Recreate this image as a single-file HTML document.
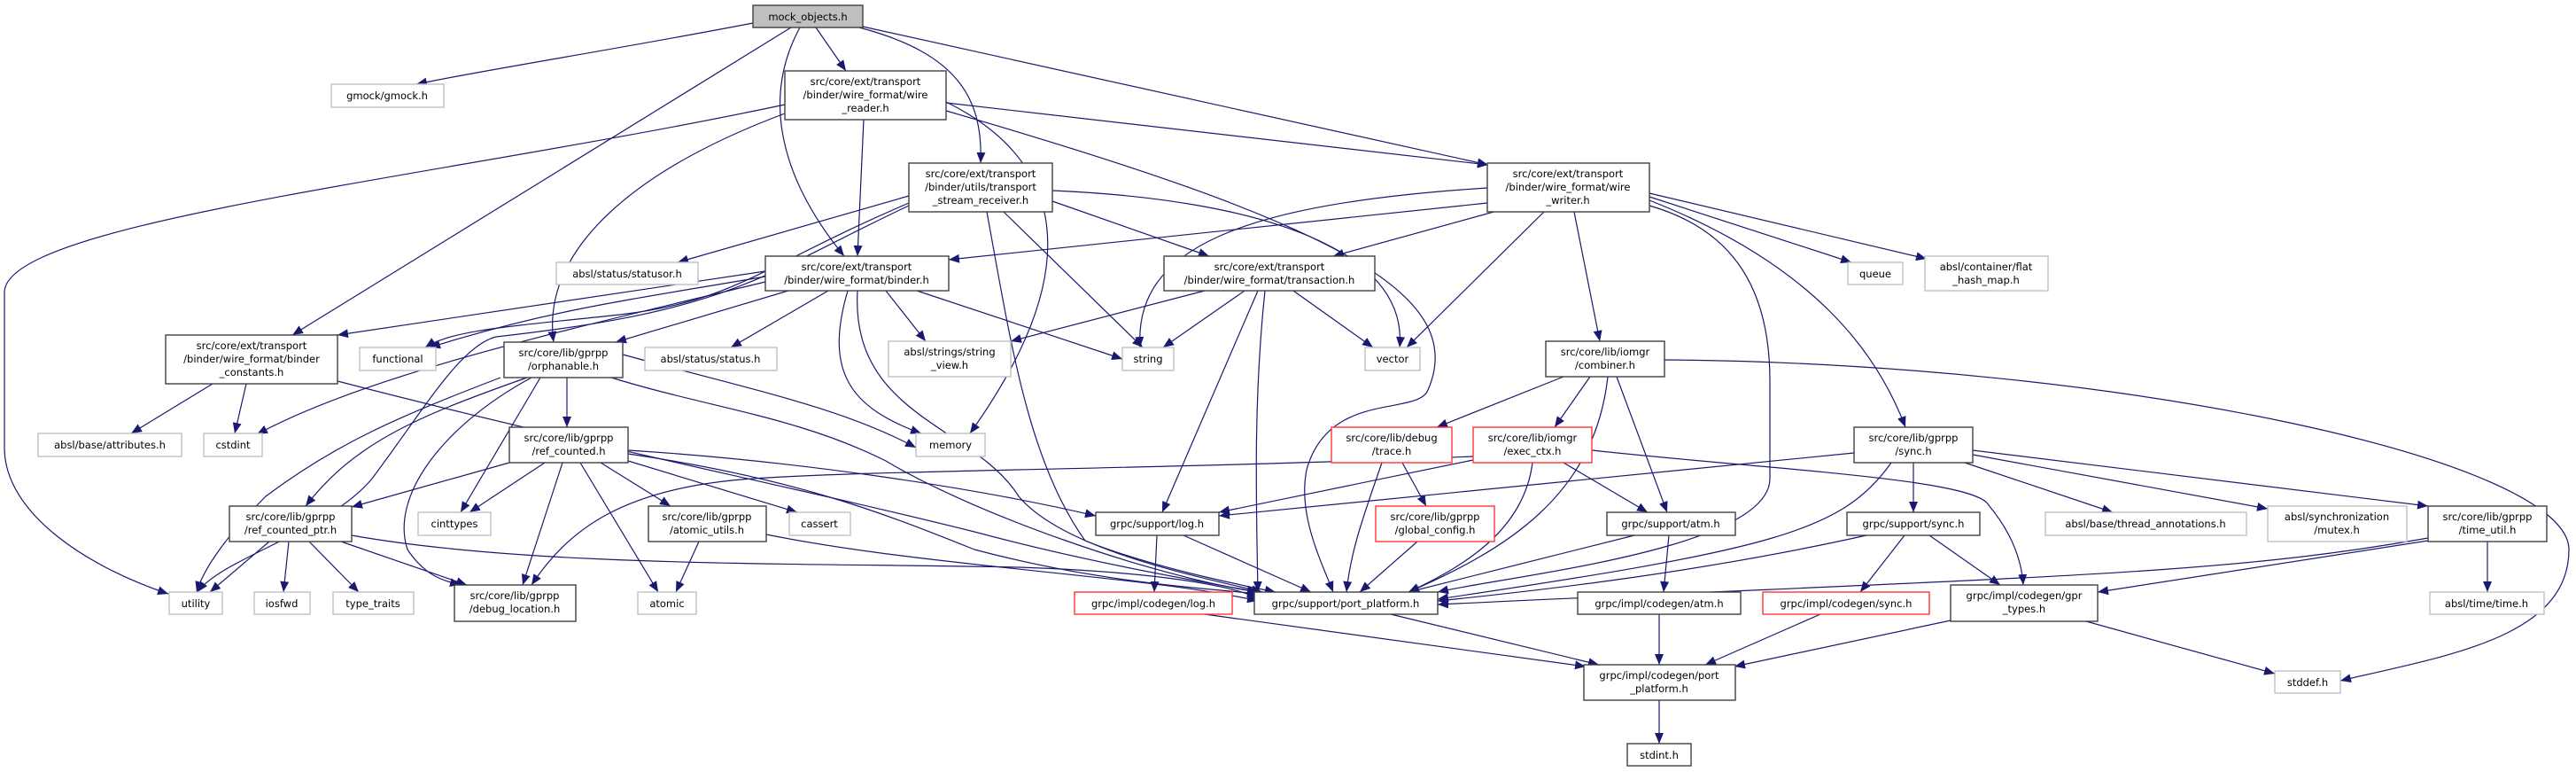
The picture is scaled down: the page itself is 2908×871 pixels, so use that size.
<!DOCTYPE html>
<html><head><meta charset="utf-8"><style>
html,body{margin:0;padding:0;background:#fff;}
svg{display:block;}
text{font-family:"DejaVu Sans","Liberation Sans",sans-serif;font-size:11.5px;fill:#000;text-anchor:middle;}
.e{fill:none;stroke:#191970;stroke-width:1.2;marker-end:url(#a);}
.b{fill:#fff;stroke:#404040;stroke-width:1.4;}
.g{fill:#fff;stroke:#c0c0c0;stroke-width:1.4;}
.r{fill:#fff;stroke:#ff3333;stroke-width:1.4;}
.m{fill:#bfbfbf;stroke:#404040;stroke-width:1.4;}
</style></head><body>
<svg width="2908" height="871" viewBox="0 0 2908 871" xmlns="http://www.w3.org/2000/svg">
<defs><marker id="a" markerUnits="userSpaceOnUse" markerWidth="13" markerHeight="10" refX="12" refY="5" orient="auto"><path d="M0,0 L12,5 L0,10 z" fill="#191970"/></marker></defs>

<!-- edges -->
<path class="e" d="M850,26 C700,55 540,80 470,95"/>
<path class="e" d="M921,31 L955,80"/>
<path class="e" d="M893,31 L330,378"/>
<path class="e" d="M903,31 C860,110 880,200 953,289"/>
<path class="e" d="M970,31 C1080,60 1110,110 1107,184"/>
<path class="e" d="M974,30 L1680,186"/>

<path class="e" d="M886,118 C500,200 5,250 5,330 L5,505 C5,580 100,640 190,670"/>
<path class="e" d="M886,128 C720,190 610,280 625,386"/>
<path class="e" d="M975,135 L968,289"/>
<path class="e" d="M1068,115 C1200,180 1230,300 1095,489"/>
<path class="e" d="M1068,116 L1680,186"/>
<path class="e" d="M1068,125 C1500,250 1660,330 1612,440 C1600,470 1500,440 1475,530 C1465,580 1490,630 1505,668"/>

<path class="e" d="M1026,221 L765,296"/>
<path class="e" d="M1026,229 C860,300 830,340 700,355 C580,368 510,372 480,392"/>
<path class="e" d="M1026,232 C860,310 830,350 560,380 C520,390 480,460 420,540 C370,600 250,630 223,668"/>
<path class="e" d="M1133,239 L1290,392"/>
<path class="e" d="M1188,227 L1365,289"/>
<path class="e" d="M1188,215 C1420,225 1590,280 1580,392"/>
<path class="e" d="M1114,239 C1140,380 1160,520 1225,610 C1300,640 1400,660 1440,668"/>

<path class="e" d="M864,306 L381,378"/>
<path class="e" d="M864,312 C700,340 620,350 485,392"/>
<path class="e" d="M864,318 C650,370 420,420 290,490"/>
<path class="e" d="M890,328 L695,386"/>
<path class="e" d="M935,328 L825,392"/>
<path class="e" d="M1000,328 L1045,385"/>
<path class="e" d="M1035,328 L1267,405"/>
<path class="e" d="M957,328 C930,420 960,460 1040,489"/>
<path class="e" d="M968,328 C960,470 1100,480 1150,560 C1200,620 1350,650 1425,668"/>

<path class="e" d="M1679,229 L1071,293"/>
<path class="e" d="M1679,212 C1400,230 1280,280 1287,392"/>
<path class="e" d="M1719,230 L1505,289"/>
<path class="e" d="M1743,239 L1588,392"/>
<path class="e" d="M1777,239 L1806,385"/>
<path class="e" d="M1862,226 C2050,300 2120,400 2151,482"/>
<path class="e" d="M1862,222 L2090,296"/>
<path class="e" d="M1862,218 L2175,292"/>
<path class="e" d="M1862,232 C1960,260 1998,330 1998,430 L1998,540 C1998,620 1700,650 1623,668"/>

<path class="e" d="M1360,328 L1141,385"/>
<path class="e" d="M1405,328 L1313,392"/>
<path class="e" d="M1460,328 L1550,392"/>
<path class="e" d="M1420,328 L1312,578"/>
<path class="e" d="M1428,328 C1415,450 1418,560 1420,668"/>

<path class="e" d="M1765,425 L1622,482"/>
<path class="e" d="M1795,425 L1755,482"/>
<path class="e" d="M1825,425 L1882,578"/>
<path class="e" d="M1815,425 C1800,560 1700,620 1590,668"/>
<path class="e" d="M1879,406 C2400,410 2900,520 2900,620 C2900,720 2760,740 2642,768"/>

<path class="e" d="M1583,522 L1610,571"/>
<path class="e" d="M1560,522 C1540,580 1525,620 1520,668"/>
<path class="e" d="M1663,519 L1376,578"/>
<path class="e" d="M1663,515 C1300,530 1000,530 850,540 C700,550 640,600 600,660"/>
<path class="e" d="M1765,522 L1860,578"/>
<path class="e" d="M1730,522 C1720,600 1650,640 1590,668"/>
<path class="e" d="M1797,508 C2000,530 2230,540 2245,570 C2270,600 2282,630 2284,660"/>
<path class="e" d="M1600,611 L1535,668"/>

<path class="e" d="M703,400 C850,440 950,460 1034,505"/>
<path class="e" d="M610,426 L520,578"/>
<path class="e" d="M640,426 L640,482"/>
<path class="e" d="M595,426 C470,470 400,500 345,571"/>
<path class="e" d="M565,426 C450,470 380,500 300,560 C260,600 230,640 222,668"/>
<path class="e" d="M600,426 C500,480 440,560 460,620 C480,650 500,655 520,660"/>
<path class="e" d="M690,426 C800,460 900,470 1000,520 C1100,580 1300,650 1420,668"/>

<path class="e" d="M240,433 L148,489"/>
<path class="e" d="M278,433 L265,489"/>
<path class="e" d="M381,430 C650,500 900,550 1100,600 C1250,640 1380,660 1420,668"/>

<path class="e" d="M575,522 L397,572"/>
<path class="e" d="M615,522 L530,578"/>
<path class="e" d="M635,522 L590,660"/>
<path class="e" d="M655,522 L743,668"/>
<path class="e" d="M678,522 L757,571"/>
<path class="e" d="M709,520 L900,578"/>
<path class="e" d="M709,508 C900,520 1100,550 1237,582"/>
<path class="e" d="M709,512 C900,540 1000,580 1100,620 C1250,660 1380,665 1420,670"/>

<path class="e" d="M304,611 L237,668"/>
<path class="e" d="M326,611 L320,668"/>
<path class="e" d="M349,611 L405,668"/>
<path class="e" d="M385,611 L527,660"/>
<path class="e" d="M397,604 C600,640 900,635 1150,640 C1300,645 1390,660 1420,675"/>
<path class="e" d="M789,611 L763,668"/>
<path class="e" d="M865,603 C1050,640 1300,650 1420,678"/>

<path class="e" d="M1306,604 L1303,668"/>
<path class="e" d="M1336,604 L1480,668"/>
<path class="e" d="M1845,604 L1590,668"/>
<path class="e" d="M1884,604 L1878,668"/>

<path class="e" d="M2093,511 L1376,582"/>
<path class="e" d="M2135,522 C2080,600 2000,620 1623,676"/>
<path class="e" d="M2160,522 L2160,578"/>
<path class="e" d="M2218,522 L2385,578"/>
<path class="e" d="M2227,513 L2560,574"/>
<path class="e" d="M2227,508 L2741,571"/>
<path class="e" d="M2150,604 L2100,668"/>
<path class="e" d="M2178,604 L2258,660"/>
<path class="e" d="M2107,604 C1900,650 1700,670 1623,678"/>
<path class="e" d="M2808,611 L2808,668"/>
<path class="e" d="M2741,610 L2368,668"/>
<path class="e" d="M2741,607 C2500,650 2300,650 1623,682"/>

<path class="e" d="M1360,693 L1790,752"/>
<path class="e" d="M1570,693 L1805,750"/>
<path class="e" d="M1873,693 L1873,750"/>
<path class="e" d="M2055,693 L1925,750"/>
<path class="e" d="M2202,700 L1958,752"/>
<path class="e" d="M2355,701 L2568,760"/>
<path class="e" d="M1873,790 L1873,839"/>

<!-- nodes -->
<rect class="m" x="850" y="6" width="124" height="25"/><text x="912" y="23">mock_objects.h</text>
<rect class="g" x="374" y="95" width="127" height="26"/><text x="437" y="112">gmock/gmock.h</text>
<rect class="b" x="886" y="80" width="182" height="55"/><text x="977" y="96">src/core/ext/transport</text><text x="977" y="111">/binder/wire_format/wire</text><text x="977" y="126">_reader.h</text>
<rect class="g" x="628" y="296" width="160" height="25"/><text x="708" y="313">absl/status/statusor.h</text>
<rect class="b" x="864" y="289" width="207" height="39"/><text x="967" y="305">src/core/ext/transport</text><text x="967" y="320">/binder/wire_format/binder.h</text>
<rect class="b" x="187" y="378" width="194" height="55"/><text x="284" y="394">src/core/ext/transport</text><text x="284" y="409">/binder/wire_format/binder</text><text x="284" y="424">_constants.h</text>
<rect class="g" x="406" y="392" width="86" height="26"/><text x="449" y="409">functional</text>
<rect class="b" x="569" y="386" width="134" height="40"/><text x="636" y="402">src/core/lib/gprpp</text><text x="636" y="417">/orphanable.h</text>
<rect class="g" x="728" y="392" width="149" height="26"/><text x="802" y="409">absl/status/status.h</text>
<rect class="g" x="43" y="489" width="162" height="26"/><text x="124" y="506">absl/base/attributes.h</text>
<rect class="g" x="230" y="489" width="66" height="26"/><text x="263" y="506">cstdint</text>
<rect class="b" x="575" y="482" width="134" height="40"/><text x="642" y="498">src/core/lib/gprpp</text><text x="642" y="513">/ref_counted.h</text>
<rect class="b" x="259" y="571" width="138" height="40"/><text x="328" y="587">src/core/lib/gprpp</text><text x="328" y="602">/ref_counted_ptr.h</text>
<rect class="g" x="472" y="578" width="82" height="26"/><text x="513" y="595">cinttypes</text>
<rect class="b" x="732" y="571" width="133" height="40"/><text x="798" y="587">src/core/lib/gprpp</text><text x="798" y="602">/atomic_utils.h</text>
<rect class="g" x="891" y="578" width="69" height="26"/><text x="925" y="595">cassert</text>
<rect class="g" x="191" y="668" width="60" height="25"/><text x="221" y="685">utility</text>
<rect class="g" x="287" y="668" width="63" height="25"/><text x="318" y="685">iosfwd</text>
<rect class="g" x="376" y="668" width="91" height="25"/><text x="421" y="685">type_traits</text>
<rect class="b" x="513" y="660" width="137" height="41"/><text x="581" y="676">src/core/lib/gprpp</text><text x="581" y="691">/debug_location.h</text>
<rect class="g" x="720" y="668" width="66" height="25"/><text x="753" y="685">atomic</text>

<rect class="b" x="1026" y="184" width="162" height="55"/><text x="1107" y="200">src/core/ext/transport</text><text x="1107" y="215">/binder/utils/transport</text><text x="1107" y="230">_stream_receiver.h</text>
<rect class="b" x="1679" y="184" width="183" height="55"/><text x="1770" y="200">src/core/ext/transport</text><text x="1770" y="215">/binder/wire_format/wire</text><text x="1770" y="230">_writer.h</text>
<rect class="b" x="1314" y="289" width="238" height="39"/><text x="1433" y="305">src/core/ext/transport</text><text x="1433" y="320">/binder/wire_format/transaction.h</text>
<rect class="g" x="1003" y="385" width="138" height="40"/><text x="1072" y="401">absl/strings/string</text><text x="1072" y="416">_view.h</text>
<rect class="g" x="1267" y="392" width="58" height="26"/><text x="1296" y="409">string</text>
<rect class="g" x="1541" y="392" width="62" height="26"/><text x="1572" y="409">vector</text>
<rect class="b" x="1745" y="385" width="134" height="40"/><text x="1812" y="401">src/core/lib/iomgr</text><text x="1812" y="416">/combiner.h</text>
<rect class="g" x="1034" y="489" width="78" height="26"/><text x="1073" y="506">memory</text>
<rect class="r" x="1503" y="482" width="136" height="40"/><text x="1571" y="498">src/core/lib/debug</text><text x="1571" y="513">/trace.h</text>
<rect class="r" x="1663" y="482" width="134" height="40"/><text x="1730" y="498">src/core/lib/iomgr</text><text x="1730" y="513">/exec_ctx.h</text>
<rect class="b" x="1237" y="578" width="139" height="26"/><text x="1306" y="595">grpc/support/log.h</text>
<rect class="r" x="1553" y="571" width="134" height="40"/><text x="1620" y="587">src/core/lib/gprpp</text><text x="1620" y="602">/global_config.h</text>
<rect class="b" x="1814" y="578" width="145" height="26"/><text x="1886" y="595">grpc/support/atm.h</text>
<rect class="r" x="1213" y="668" width="178" height="25"/><text x="1302" y="685">grpc/impl/codegen/log.h</text>
<rect class="b" x="1416" y="668" width="207" height="25"/><text x="1519" y="685">grpc/support/port_platform.h</text>
<rect class="b" x="1781" y="668" width="184" height="25"/><text x="1873" y="685">grpc/impl/codegen/atm.h</text>
<rect class="b" x="1788" y="750" width="171" height="40"/><text x="1873" y="766">grpc/impl/codegen/port</text><text x="1873" y="781">_platform.h</text>
<rect class="b" x="1837" y="839" width="72" height="25"/><text x="1873" y="856">stdint.h</text>

<rect class="g" x="2086" y="296" width="62" height="25"/><text x="2117" y="313">queue</text>
<rect class="g" x="2173" y="289" width="139" height="39"/><text x="2242" y="305">absl/container/flat</text><text x="2242" y="320">_hash_map.h</text>
<rect class="b" x="2093" y="482" width="134" height="40"/><text x="2160" y="498">src/core/lib/gprpp</text><text x="2160" y="513">/sync.h</text>
<rect class="b" x="2085" y="578" width="150" height="26"/><text x="2160" y="595">grpc/support/sync.h</text>
<rect class="g" x="2309" y="578" width="227" height="26"/><text x="2422" y="595">absl/base/thread_annotations.h</text>
<rect class="g" x="2560" y="571" width="157" height="40"/><text x="2638" y="587">absl/synchronization</text><text x="2638" y="602">/mutex.h</text>
<rect class="b" x="2741" y="571" width="134" height="40"/><text x="2808" y="587">src/core/lib/gprpp</text><text x="2808" y="602">/time_util.h</text>
<rect class="r" x="1990" y="668" width="188" height="25"/><text x="2084" y="685">grpc/impl/codegen/sync.h</text>
<rect class="b" x="2202" y="660" width="166" height="41"/><text x="2285" y="676">grpc/impl/codegen/gpr</text><text x="2285" y="691">_types.h</text>
<rect class="g" x="2743" y="668" width="129" height="25"/><text x="2807" y="685">absl/time/time.h</text>
<rect class="g" x="2568" y="757" width="74" height="25"/><text x="2605" y="774">stddef.h</text>
</svg>
</body></html>
